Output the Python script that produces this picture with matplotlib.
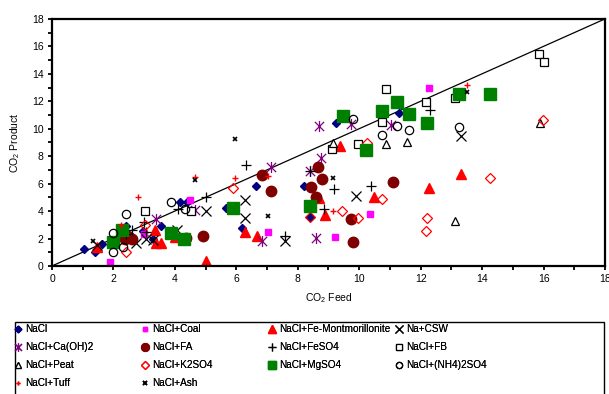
import numpy as np
import matplotlib
matplotlib.use("Agg")
import matplotlib.pyplot as plt
from matplotlib.path import Path
from matplotlib.patches import Rectangle
from matplotlib.ticker import MultipleLocator

plt.rcParams['font.family'] = ['Liberation Sans', 'DejaVu Sans']
plt.rcParams['mathtext.default'] = 'regular'

# data: (CO2 feed, CO2 product)
nacl_x = [1.04, 1.4, 1.62, 2.4, 2.95, 3.3, 3.55, 4.16, 4.4, 5.65, 6.2, 6.63, 8.2, 8.4, 9.23, 11.3]
nacl_y = [1.22, 1.0, 1.6, 2.9, 2.55, 2.0, 2.92, 4.67, 4.67, 4.2, 2.75, 5.8, 5.85, 3.55, 10.45, 11.15]

coal_x = [1.88, 3.0, 4.5, 7.04, 9.2, 10.36, 12.27]
coal_y = [0.32, 2.3, 4.8, 2.46, 2.1, 3.75, 12.95]

femont_x = [1.45, 3.35, 3.4, 3.55, 4.0, 5.0, 6.28, 6.66, 8.69, 8.88, 9.39, 10.47, 12.28, 13.31]
femont_y = [1.4, 2.6, 1.65, 1.65, 2.1, 0.34, 2.44, 2.17, 4.92, 3.7, 8.76, 5.04, 5.65, 6.67]

csw_x = [1.45, 2.72, 3.07, 3.3, 4.08, 5.0, 6.28, 6.28, 7.58, 9.91, 13.31]
csw_y = [1.55, 1.65, 1.95, 1.9, 2.6, 3.97, 4.8, 3.46, 1.8, 5.1, 9.49]

caoh_x = [3.37, 4.65, 6.83, 7.12, 8.39, 8.77, 8.58, 8.7, 9.73, 11.05]
caoh_y = [3.4, 4.07, 1.8, 7.2, 6.9, 7.9, 2.07, 10.2, 10.35, 10.25]

fa_x = [2.37, 2.5, 2.6, 4.35, 4.9, 6.82, 7.12, 8.43, 8.58, 8.66, 8.8, 9.73, 9.79, 11.09]
fa_y = [2.0, 2.1, 2.0, 2.04, 2.17, 6.62, 5.47, 5.77, 5.04, 7.18, 6.31, 3.41, 1.71, 6.09]

feso4_x = [2.4, 2.6, 3.0, 3.05, 4.1, 5.0, 6.3, 7.58, 8.39, 8.86, 9.19, 10.37, 12.3]
feso4_y = [2.3, 2.6, 3.2, 2.45, 4.14, 5.04, 7.35, 2.17, 6.9, 4.12, 5.6, 5.84, 11.37]

fb_x = [3.03, 4.54, 9.13, 9.97, 10.73, 10.87, 12.19, 13.12, 15.86, 16.02]
fb_y = [4.0, 4.0, 8.5, 8.85, 10.5, 12.9, 11.93, 12.22, 15.43, 14.85]

peat_x = [9.15, 10.87, 11.56, 13.12, 15.89]
peat_y = [8.95, 8.88, 9.05, 3.28, 10.39]

k2so4_x = [2.4, 3.02, 5.9, 8.39, 9.45, 9.97, 10.24, 10.73, 12.19, 12.21, 14.26, 15.99]
k2so4_y = [1.02, 2.97, 5.65, 3.6, 3.99, 3.46, 8.93, 4.85, 2.56, 3.53, 6.38, 10.63]

mgso4_x = [1.97, 2.27, 3.86, 4.29, 5.88, 8.39, 9.46, 10.22, 10.75, 11.24, 11.62, 12.2, 13.26, 14.26]
mgso4_y = [1.75, 2.6, 2.43, 1.93, 4.23, 4.36, 10.95, 8.42, 11.29, 11.93, 11.1, 10.42, 12.5, 12.5]

nh4_x = [2.0, 2.0, 2.3, 2.4, 3.86, 4.32, 9.79, 10.73, 11.24, 11.62, 13.26]
nh4_y = [1.05, 2.42, 1.4, 3.8, 4.67, 4.14, 10.73, 9.54, 10.22, 9.88, 10.15]

tuff_x = [2.26, 2.8, 4.67, 5.97, 7.03, 9.14, 13.5]
tuff_y = [3.02, 5.04, 6.45, 6.43, 6.53, 3.97, 13.17]

ash_x = [1.32, 4.65, 5.97, 7.04, 9.15, 13.5]
ash_y = [1.8, 6.26, 9.22, 3.63, 6.43, 12.65]

# excel style asterisk: vertical line plus an X
star = Path([(-1, -1), (1, 1), (-1, 1), (1, -1), (0, -1.2), (0, 1.2)],
            [Path.MOVETO, Path.LINETO, Path.MOVETO, Path.LINETO, Path.MOVETO, Path.LINETO])

fig = plt.figure(figsize=(6.09, 3.94), dpi=100)
ax = fig.add_axes([0.0854, 0.325, 0.908, 0.627])

ax.plot([0, 18], [0, 18], color='black', lw=0.9, zorder=1)

h = {}
h['NaCl'] = ax.plot(nacl_x, nacl_y, ls='none', marker='D', ms=4.5, color='#000080')[0]
h['NaCl+Coal'] = ax.plot(coal_x, coal_y, ls='none', marker='s', ms=4, color='#FF00FF')[0]
h['NaCl+Fe-Montmorillonite'] = ax.plot(femont_x, femont_y, ls='none', marker='^', ms=7.5, color='#FF0000')[0]
h['Na+CSW'] = ax.plot(csw_x, csw_y, ls='none', marker='x', ms=7, mew=0.9, color='black')[0]
h['NaCl+Ca(OH)2'] = ax.plot(caoh_x, caoh_y, ls='none', marker=star, ms=8, mew=0.9, color='#800080')[0]
h['NaCl+FA'] = ax.plot(fa_x, fa_y, ls='none', marker='o', ms=7.5, color='#800000')[0]
h['NaCl+FeSO4'] = ax.plot(feso4_x, feso4_y, ls='none', marker='+', ms=7.5, mew=0.9, color='black')[0]
h['NaCl+FB'] = ax.plot(fb_x, fb_y, ls='none', marker='s', ms=6, mfc='white', mec='black', mew=0.9)[0]
h['NaCl+Peat'] = ax.plot(peat_x, peat_y, ls='none', marker='^', ms=6, mfc='white', mec='black', mew=0.9)[0]
h['NaCl+K2SO4'] = ax.plot(k2so4_x, k2so4_y, ls='none', marker='D', ms=5.5, mfc='none', mec='#FF0000', mew=0.9)[0]
h['NaCl+MgSO4'] = ax.plot(mgso4_x, mgso4_y, ls='none', marker='s', ms=8, color='#008000')[0]
h['NaCl+(NH4)2SO4'] = ax.plot(nh4_x, nh4_y, ls='none', marker='o', ms=6, mfc='none', mec='black', mew=0.9)[0]
h['NaCl+Tuff'] = ax.plot(tuff_x, tuff_y, ls='none', marker='+', ms=4.5, mew=1.0, color='#FF0000')[0]
h['NaCl+Ash'] = ax.plot(ash_x, ash_y, ls='none', marker='x', ms=3.5, mew=1.2, color='black')[0]

ax.set_xlim(0, 18)
ax.set_ylim(0, 18)
ax.xaxis.set_major_locator(MultipleLocator(2))
ax.xaxis.set_minor_locator(MultipleLocator(1))
ax.yaxis.set_major_locator(MultipleLocator(2))
ax.yaxis.set_minor_locator(MultipleLocator(1))
ax.tick_params(which='both', direction='out', length=3, width=1.3, labelsize=7.5, pad=3)
for s in ax.spines.values():
    s.set_linewidth(1.6)

ax.set_xlabel('CO$_2$ Feed', fontsize=7.5, labelpad=5)
ax.set_ylabel('CO$_2$ Product', fontsize=7.5, labelpad=7)

# legend box (runs past the bottom edge like the original)
fig.patches.append(Rectangle((15 / 609, -0.05), 589 / 609, 0.05 + 72 / 394,
                             transform=fig.transFigure, fill=False,
                             edgecolor='black', lw=1.0))

# one legend per column so columns sit at fixed positions
cols = [['NaCl', 'NaCl+Ca(OH)2', 'NaCl+Peat', 'NaCl+Tuff'],
        ['NaCl+Coal', 'NaCl+FA', 'NaCl+K2SO4', 'NaCl+Ash'],
        ['NaCl+Fe-Montmorillonite', 'NaCl+FeSO4', 'NaCl+MgSO4'],
        ['Na+CSW', 'NaCl+FB', 'NaCl+(NH4)2SO4']]
col_left = [11, 138, 265, 392]
for names, x0 in zip(cols, col_left):
    leg = fig.legend([h[k] for k in names], names, loc='upper left',
                     bbox_to_anchor=(x0 / 609, 1 - 322 / 394),
                     fontsize=7.2, frameon=False, handlelength=0.9,
                     handletextpad=0.3, labelspacing=0.8, borderpad=0.2,
                     borderaxespad=0, markerscale=0.75)
    fig.add_artist(leg)

fig.savefig('out.png', dpi=100)
